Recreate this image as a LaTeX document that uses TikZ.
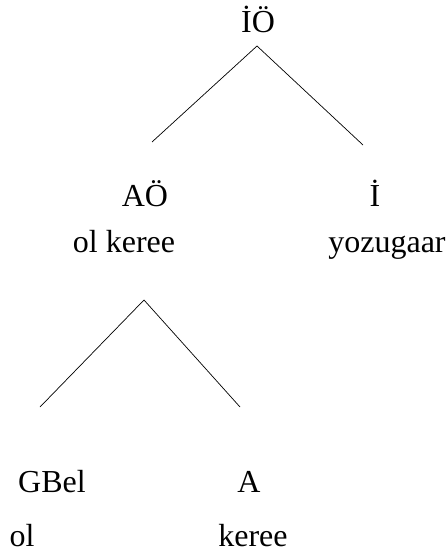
\documentclass[tikz,border=0pt]{standalone}
\usepackage{fontspec}
\setmainfont{Liberation Serif}
\tikzset{
  lbl/.style={anchor=base, inner sep=0pt, font=\fontsize{32}{38}\selectfont},
  branch/.style={line width=0.7pt, black}
}
\begin{document}
\begin{tikzpicture}[x=1pt,y=-1pt]
\useasboundingbox (0,0) rectangle (447,553);
% labels
\node[lbl] (io) at (258,33) {İÖ};
\node[lbl] (ao) at (145,207) {AÖ};
\node[lbl] (i) at (375,207) {İ};
\node[lbl] (olkeree) at (124,252) {ol keree};
\node[lbl] (yoz) at (387,252) {yozugaar};
\node[lbl] (gbel) at (52,492) {GBel};
\node[lbl] (a) at (249,492) {A};
\node[lbl] (ol) at (22,546) {ol};
\node[lbl] (keree) at (253,546) {keree};
% branch end points
\coordinate (t1) at (257,46);
\coordinate (l1) at (152,142);
\coordinate (r1) at (363,145);
\coordinate (t2) at (144,300);
\coordinate (l2) at (40,407);
\coordinate (r2) at (240,407);
\draw[branch] (l1) -- (t1) -- (r1);
\draw[branch] (l2) -- (t2) -- (r2);
\end{tikzpicture}
\end{document}
